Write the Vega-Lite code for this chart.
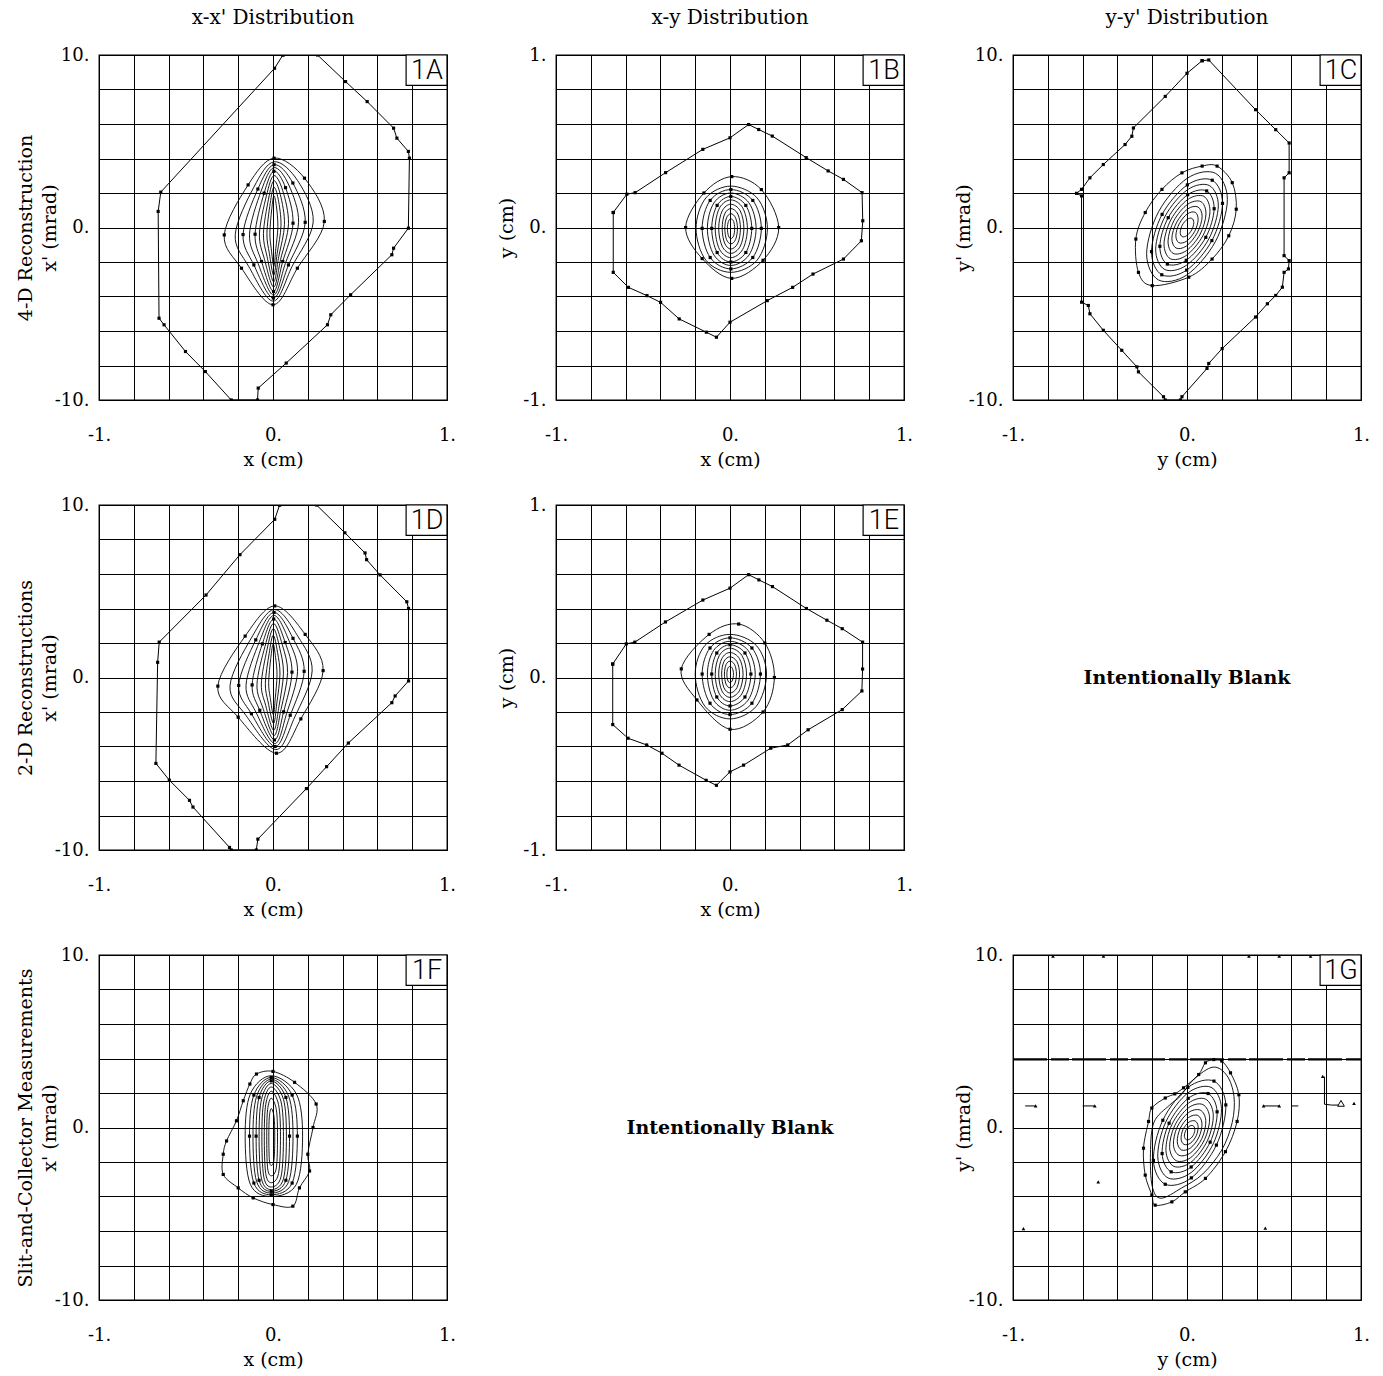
{
"$schema":"https://vega.github.io/schema/vega-lite/v6.json",
"background":"white",
"padding":{"left":15,"top":7,"right":5,"bottom":2},
"columns":3,
"spacing":{"row":25,"column":39},
"datasets":{
"A":[
{"k":0,"x":0.057,"y":10},{"k":0,"x":0.009,"y":9.23},{"k":0,"x":-0.645,"y":2.05},{"k":0,"x":-0.66,"y":0.93},{"k":0,"x":-0.655,"y":-5.26},{"k":0,"x":-0.626,"y":-5.64},{"k":0,"x":-0.503,"y":-7.19},{"k":0,"x":-0.389,"y":-8.35},{"k":0,"x":-0.24,"y":-10},{"k":0,"x":-0.089,"y":-10},{"k":0,"x":-0.085,"y":-9.31},{"k":0,"x":0.076,"y":-7.86},{"k":0,"x":0.313,"y":-5.64},{"k":0,"x":0.332,"y":-5.06},{"k":0,"x":0.446,"y":-3.9},{"k":0,"x":0.683,"y":-1.58},{"k":0,"x":0.693,"y":-1.2},{"k":0,"x":0.778,"y":-0.04},{"k":0,"x":0.784,"y":4.02},{"k":0,"x":0.778,"y":4.41},{"k":0,"x":0.712,"y":5.18},{"k":0,"x":0.693,"y":5.76},{"k":0,"x":0.541,"y":7.3},{"k":0,"x":0.417,"y":8.46},{"k":0,"x":0.256,"y":10},{"k":0,"x":0.057,"y":10},
{"k":1,"x":0.295,"y":0.35},{"k":1,"x":0.181,"y":2.86},{"k":1,"x":0.006,"y":4.02},{"k":1,"x":-0.143,"y":2.47},{"k":1,"x":-0.28,"y":-0.43},{"k":1,"x":-0.181,"y":-2.36},{"k":1,"x":0,"y":-4.48},{"k":1,"x":0.14,"y":-2.36},
{"k":2,"x":0.231,"y":0.32},{"k":2,"x":0.142,"y":2.71},{"k":2,"x":0.006,"y":3.81},{"k":2,"x":-0.11,"y":2.34},{"k":2,"x":-0.217,"y":-0.42},{"k":2,"x":-0.14,"y":-2.25},{"k":2,"x":0.001,"y":-4.27},{"k":2,"x":0.11,"y":-2.25},
{"k":3,"x":0.185,"y":0.3},{"k":3,"x":0.114,"y":2.58},{"k":3,"x":0.006,"y":3.64},{"k":3,"x":-0.087,"y":2.23},{"k":3,"x":-0.172,"y":-0.41},{"k":3,"x":-0.11,"y":-2.17},{"k":3,"x":0.002,"y":-4.09},{"k":3,"x":0.089,"y":-2.17},
{"k":4,"x":0.147,"y":0.28},{"k":4,"x":0.091,"y":2.46},{"k":4,"x":0.005,"y":3.47},{"k":4,"x":-0.068,"y":2.12},{"k":4,"x":-0.135,"y":-0.4},{"k":4,"x":-0.086,"y":-2.08},{"k":4,"x":0.003,"y":-3.92},{"k":4,"x":0.071,"y":-2.08},
{"k":5,"x":0.115,"y":0.25},{"k":5,"x":0.072,"y":2.31},{"k":5,"x":0.005,"y":3.26},{"k":5,"x":-0.051,"y":1.99},{"k":5,"x":-0.103,"y":-0.39},{"k":5,"x":-0.066,"y":-1.97},{"k":5,"x":0.003,"y":-3.71},{"k":5,"x":0.056,"y":-1.97},
{"k":6,"x":0.089,"y":0.22},{"k":6,"x":0.056,"y":2.13},{"k":6,"x":0.005,"y":3.01},{"k":6,"x":-0.038,"y":1.83},{"k":6,"x":-0.078,"y":-0.38},{"k":6,"x":-0.049,"y":-1.84},{"k":6,"x":0.004,"y":-3.45},{"k":6,"x":0.044,"y":-1.84},
{"k":7,"x":0.066,"y":0.18},{"k":7,"x":0.042,"y":1.91},{"k":7,"x":0.005,"y":2.71},{"k":7,"x":-0.026,"y":1.64},{"k":7,"x":-0.055,"y":-0.36},{"k":7,"x":-0.034,"y":-1.69},{"k":7,"x":0.004,"y":-3.15},{"k":7,"x":0.033,"y":-1.69},
{"k":8,"x":0.046,"y":0.13},{"k":8,"x":0.03,"y":1.64},{"k":8,"x":0.005,"y":2.33},{"k":8,"x":-0.016,"y":1.4},{"k":8,"x":-0.035,"y":-0.34},{"k":8,"x":-0.021,"y":-1.5},{"k":8,"x":0.004,"y":-2.77},{"k":8,"x":0.024,"y":-1.5},
{"k":9,"x":0.028,"y":0.06},{"k":9,"x":0.019,"y":1.27},{"k":9,"x":0.005,"y":1.83},{"k":9,"x":-0.007,"y":1.08},{"k":9,"x":-0.018,"y":-0.31},{"k":9,"x":-0.01,"y":-1.24},{"k":9,"x":0.005,"y":-2.25},{"k":9,"x":0.016,"y":-1.24}
],
"B":[
{"k":0,"x":-0.671,"y":0.087},{"k":0,"x":-0.593,"y":0.193},{"k":0,"x":-0.545,"y":0.202},{"k":0,"x":-0.37,"y":0.318},{"k":0,"x":-0.156,"y":0.453},{"k":0,"x":0,"y":0.52},{"k":0,"x":0.107,"y":0.597},{"k":0,"x":0.165,"y":0.568},{"k":0,"x":0.243,"y":0.53},{"k":0,"x":0.438,"y":0.405},{"k":0,"x":0.564,"y":0.328},{"k":0,"x":0.652,"y":0.279},{"k":0,"x":0.759,"y":0.202},{"k":0,"x":0.763,"y":0.039},{"k":0,"x":0.755,"y":-0.077},{"k":0,"x":0.652,"y":-0.183},{"k":0,"x":0.477,"y":-0.27},{"k":0,"x":0.36,"y":-0.347},{"k":0,"x":0.214,"y":-0.424},{"k":0,"x":0,"y":-0.549},{"k":0,"x":-0.078,"y":-0.636},{"k":0,"x":-0.136,"y":-0.607},{"k":0,"x":-0.292,"y":-0.53},{"k":0,"x":-0.399,"y":-0.434},{"k":0,"x":-0.477,"y":-0.395},{"k":0,"x":-0.584,"y":-0.347},{"k":0,"x":-0.671,"y":-0.26},{"k":0,"x":-0.671,"y":0.087},
{"k":1,"x":0.28,"y":0},{"k":1,"x":0.18,"y":0.22},{"k":1,"x":0.01,"y":0.295},{"k":1,"x":-0.15,"y":0.2},{"k":1,"x":-0.255,"y":0},{"k":1,"x":-0.16,"y":-0.18},{"k":1,"x":0.01,"y":-0.295},{"k":1,"x":0.19,"y":-0.19},
{"k":2,"x":0.215,"y":-0.005},{"k":2,"x":0.156,"y":0.171},{"k":2,"x":0.005,"y":0.24},{"k":2,"x":-0.139,"y":0.171},{"k":2,"x":-0.195,"y":-0.005},{"k":2,"x":-0.139,"y":-0.189},{"k":2,"x":0.005,"y":-0.26},{"k":2,"x":0.156,"y":-0.189},
{"k":3,"x":0.18,"y":-0.005},{"k":3,"x":0.131,"y":0.157},{"k":3,"x":0.005,"y":0.22},{"k":3,"x":-0.114,"y":0.157},{"k":3,"x":-0.16,"y":-0.005},{"k":3,"x":-0.114,"y":-0.174},{"k":3,"x":0.005,"y":-0.24},{"k":3,"x":0.131,"y":-0.174},
{"k":4,"x":0.15,"y":-0.005},{"k":4,"x":0.109,"y":0.143},{"k":4,"x":0.005,"y":0.2},{"k":4,"x":-0.092,"y":0.143},{"k":4,"x":-0.13,"y":-0.005},{"k":4,"x":-0.092,"y":-0.16},{"k":4,"x":0.005,"y":-0.22},{"k":4,"x":0.109,"y":-0.16},
{"k":5,"x":0.125,"y":-0.005},{"k":5,"x":0.091,"y":0.128},{"k":5,"x":0.005,"y":0.18},{"k":5,"x":-0.074,"y":0.128},{"k":5,"x":-0.105,"y":-0.005},{"k":5,"x":-0.074,"y":-0.145},{"k":5,"x":0.005,"y":-0.2},{"k":5,"x":0.091,"y":-0.145},
{"k":6,"x":0.1,"y":-0.005},{"k":6,"x":0.073,"y":0.114},{"k":6,"x":0.005,"y":0.16},{"k":6,"x":-0.06,"y":0.114},{"k":6,"x":-0.085,"y":-0.005},{"k":6,"x":-0.06,"y":-0.127},{"k":6,"x":0.005,"y":-0.175},{"k":6,"x":0.073,"y":-0.127},
{"k":7,"x":0.08,"y":-0.005},{"k":7,"x":0.059,"y":0.096},{"k":7,"x":0.005,"y":0.135},{"k":7,"x":-0.045,"y":0.096},{"k":7,"x":-0.065,"y":-0.005},{"k":7,"x":-0.045,"y":-0.109},{"k":7,"x":0.005,"y":-0.15},{"k":7,"x":0.059,"y":-0.109},
{"k":8,"x":0.06,"y":-0.005},{"k":8,"x":0.045,"y":0.078},{"k":8,"x":0.005,"y":0.11},{"k":8,"x":-0.031,"y":0.078},{"k":8,"x":-0.045,"y":-0.005},{"k":8,"x":-0.031,"y":-0.091},{"k":8,"x":0.005,"y":-0.125},{"k":8,"x":0.045,"y":-0.091},
{"k":9,"x":0.043,"y":-0.005},{"k":9,"x":0.032,"y":0.056},{"k":9,"x":0.005,"y":0.08},{"k":9,"x":-0.02,"y":0.056},{"k":9,"x":-0.03,"y":-0.005},{"k":9,"x":-0.02,"y":-0.07},{"k":9,"x":0.005,"y":-0.095},{"k":9,"x":0.032,"y":-0.07},
{"k":10,"x":0.027,"y":-0.005},{"k":10,"x":0.021,"y":0.035},{"k":10,"x":0.005,"y":0.05},{"k":10,"x":-0.009,"y":0.035},{"k":10,"x":-0.015,"y":-0.005},{"k":10,"x":-0.009,"y":-0.048},{"k":10,"x":0.005,"y":-0.065},{"k":10,"x":0.021,"y":-0.048}
],
"C":[
{"k":0,"x":0.087,"y":9.67},{"k":0,"x":0.125,"y":9.71},{"k":0,"x":0.394,"y":6.83},{"k":0,"x":0.51,"y":5.67},{"k":0,"x":0.587,"y":4.9},{"k":0,"x":0.587,"y":3.17},{"k":0,"x":0.558,"y":2.88},{"k":0,"x":0.558,"y":-1.63},{"k":0,"x":0.587,"y":-1.92},{"k":0,"x":0.583,"y":-2.4},{"k":0,"x":0.558,"y":-2.6},{"k":0,"x":0.548,"y":-3.46},{"k":0,"x":0.51,"y":-3.94},{"k":0,"x":0.462,"y":-4.42},{"k":0,"x":0.394,"y":-5.19},{"k":0,"x":0.202,"y":-7.02},{"k":0,"x":0.125,"y":-7.88},{"k":0,"x":0.115,"y":-8.17},{"k":0,"x":-0.029,"y":-9.81},{"k":0,"x":-0.038,"y":-10},{"k":0,"x":-0.125,"y":-10},{"k":0,"x":-0.135,"y":-9.81},{"k":0,"x":-0.279,"y":-8.37},{"k":0,"x":-0.288,"y":-8.08},{"k":0,"x":-0.375,"y":-7.12},{"k":0,"x":-0.481,"y":-5.96},{"k":0,"x":-0.558,"y":-5.0},{"k":0,"x":-0.567,"y":-4.52},{"k":0,"x":-0.606,"y":-4.33},{"k":0,"x":-0.606,"y":1.83},{"k":0,"x":-0.635,"y":1.98},{"k":0,"x":-0.606,"y":2.21},{"k":0,"x":-0.558,"y":2.88},{"k":0,"x":-0.481,"y":3.65},{"k":0,"x":-0.356,"y":4.81},{"k":0,"x":-0.317,"y":5.29},{"k":0,"x":-0.308,"y":5.77},{"k":0,"x":-0.125,"y":7.6},{"k":0,"x":0,"y":8.94},{"k":0,"x":0.087,"y":9.67},
{"k":1,"x":0.173,"y":3.56},{"k":1,"x":0.26,"y":2.6},{"k":1,"x":0.283,"y":1.06},{"k":1,"x":0.24,"y":-0.48},{"k":1,"x":0.144,"y":-1.83},{"k":1,"x":0.01,"y":-2.88},{"k":1,"x":-0.2,"y":-3.37},{"k":1,"x":-0.279,"y":-2.6},{"k":1,"x":-0.294,"y":-0.67},{"k":1,"x":-0.24,"y":0.87},{"k":1,"x":-0.144,"y":2.21},{"k":1,"x":-0.029,"y":3.17},{"k":1,"x":0.087,"y":3.56},
{"k":2,"x":0.164,"y":3.14},{"k":2,"x":0.001,"y":2.85},{"k":2,"x":-0.163,"y":0.92},{"k":2,"x":-0.232,"y":-1.52},{"k":2,"x":-0.164,"y":-3.04},{"k":2,"x":-0.001,"y":-2.75},{"k":2,"x":0.163,"y":-0.82},{"k":2,"x":0.232,"y":1.62},
{"k":3,"x":0.145,"y":2.74},{"k":3,"x":0.002,"y":2.47},{"k":3,"x":-0.143,"y":0.76},{"k":3,"x":-0.204,"y":-1.4},{"k":3,"x":-0.145,"y":-2.74},{"k":3,"x":-0.002,"y":-2.47},{"k":3,"x":0.143,"y":-0.76},{"k":3,"x":0.204,"y":1.4},
{"k":4,"x":0.129,"y":2.43},{"k":4,"x":0.003,"y":2.19},{"k":4,"x":-0.125,"y":0.67},{"k":4,"x":-0.18,"y":-1.25},{"k":4,"x":-0.129,"y":-2.43},{"k":4,"x":-0.003,"y":-2.19},{"k":4,"x":0.125,"y":-0.67},{"k":4,"x":0.18,"y":1.25},
{"k":5,"x":0.113,"y":2.12},{"k":5,"x":0.004,"y":1.9},{"k":5,"x":-0.108,"y":0.57},{"k":5,"x":-0.156,"y":-1.09},{"k":5,"x":-0.113,"y":-2.12},{"k":5,"x":-0.004,"y":-1.9},{"k":5,"x":0.108,"y":-0.57},{"k":5,"x":0.156,"y":1.09},
{"k":6,"x":0.096,"y":1.81},{"k":6,"x":0.004,"y":1.62},{"k":6,"x":-0.091,"y":0.48},{"k":6,"x":-0.132,"y":-0.94},{"k":6,"x":-0.096,"y":-1.81},{"k":6,"x":-0.004,"y":-1.62},{"k":6,"x":0.091,"y":-0.48},{"k":6,"x":0.132,"y":0.94},
{"k":7,"x":0.08,"y":1.5},{"k":7,"x":0.003,"y":1.34},{"k":7,"x":-0.075,"y":0.4},{"k":7,"x":-0.109,"y":-0.78},{"k":7,"x":-0.08,"y":-1.5},{"k":7,"x":-0.003,"y":-1.34},{"k":7,"x":0.075,"y":-0.4},{"k":7,"x":0.109,"y":0.78},
{"k":8,"x":0.063,"y":1.19},{"k":8,"x":0.003,"y":1.07},{"k":8,"x":-0.059,"y":0.31},{"k":8,"x":-0.087,"y":-0.62},{"k":8,"x":-0.063,"y":-1.19},{"k":8,"x":-0.003,"y":-1.07},{"k":8,"x":0.059,"y":-0.31},{"k":8,"x":0.087,"y":0.62},
{"k":9,"x":0.047,"y":0.88},{"k":9,"x":0.002,"y":0.79},{"k":9,"x":-0.044,"y":0.23},{"k":9,"x":-0.064,"y":-0.46},{"k":9,"x":-0.047,"y":-0.88},{"k":9,"x":-0.002,"y":-0.79},{"k":9,"x":0.044,"y":-0.23},{"k":9,"x":0.064,"y":0.46},
{"k":10,"x":0.028,"y":0.53},{"k":10,"x":0.001,"y":0.47},{"k":10,"x":-0.027,"y":0.14},{"k":10,"x":-0.039,"y":-0.28},{"k":10,"x":-0.028,"y":-0.53},{"k":10,"x":-0.001,"y":-0.47},{"k":10,"x":0.027,"y":-0.14},{"k":10,"x":0.039,"y":0.28}
],
"D":[
{"k":0,"x":0.038,"y":10},{"k":0,"x":0.01,"y":9.17},{"k":0,"x":-0.19,"y":7.12},{"k":0,"x":-0.385,"y":4.78},{"k":0,"x":-0.654,"y":2.05},{"k":0,"x":-0.663,"y":0.88},{"k":0,"x":-0.673,"y":-4.98},{"k":0,"x":-0.596,"y":-5.95},{"k":0,"x":-0.48,"y":-7.12},{"k":0,"x":-0.46,"y":-7.51},{"k":0,"x":-0.25,"y":-9.85},{"k":0,"x":-0.24,"y":-10},{"k":0,"x":-0.096,"y":-10},{"k":0,"x":-0.087,"y":-9.37},{"k":0,"x":0.192,"y":-6.44},{"k":0,"x":0.308,"y":-5.17},{"k":0,"x":0.433,"y":-3.8},{"k":0,"x":0.683,"y":-1.46},{"k":0,"x":0.702,"y":-1.07},{"k":0,"x":0.779,"y":-0.2},{"k":0,"x":0.779,"y":4.0},{"k":0,"x":0.769,"y":4.39},{"k":0,"x":0.615,"y":5.95},{"k":0,"x":0.538,"y":6.83},{"k":0,"x":0.529,"y":7.22},{"k":0,"x":0.413,"y":8.39},{"k":0,"x":0.25,"y":10},{"k":0,"x":0.038,"y":10},
{"k":1,"x":0.288,"y":0.4},{"k":1,"x":0.185,"y":2.5},{"k":1,"x":0.01,"y":4.15},{"k":1,"x":-0.16,"y":2.4},{"k":1,"x":-0.317,"y":-0.5},{"k":1,"x":-0.2,"y":-2.3},{"k":1,"x":0.02,"y":-4.39},{"k":1,"x":0.16,"y":-2.4},
{"k":2,"x":0.225,"y":0.38},{"k":2,"x":0.144,"y":2.37},{"k":2,"x":0.008,"y":3.94},{"k":2,"x":-0.125,"y":2.28},{"k":2,"x":-0.247,"y":-0.48},{"k":2,"x":-0.156,"y":-2.19},{"k":2,"x":0.016,"y":-4.18},{"k":2,"x":0.125,"y":-2.29},
{"k":3,"x":0.179,"y":0.36},{"k":3,"x":0.115,"y":2.27},{"k":3,"x":0.006,"y":3.77},{"k":3,"x":-0.099,"y":2.18},{"k":3,"x":-0.197,"y":-0.46},{"k":3,"x":-0.124,"y":-2.1},{"k":3,"x":0.012,"y":-4.0},{"k":3,"x":0.099,"y":-2.19},
{"k":4,"x":0.141,"y":0.34},{"k":4,"x":0.091,"y":2.16},{"k":4,"x":0.005,"y":3.6},{"k":4,"x":-0.078,"y":2.08},{"k":4,"x":-0.155,"y":-0.45},{"k":4,"x":-0.098,"y":-2.01},{"k":4,"x":0.01,"y":-3.83},{"k":4,"x":0.078,"y":-2.1},
{"k":5,"x":0.109,"y":0.31},{"k":5,"x":0.07,"y":2.03},{"k":5,"x":0.004,"y":3.39},{"k":5,"x":-0.061,"y":1.95},{"k":5,"x":-0.12,"y":-0.43},{"k":5,"x":-0.076,"y":-1.9},{"k":5,"x":0.008,"y":-3.62},{"k":5,"x":0.061,"y":-1.99},
{"k":6,"x":0.084,"y":0.28},{"k":6,"x":0.054,"y":1.88},{"k":6,"x":0.003,"y":3.13},{"k":6,"x":-0.046,"y":1.8},{"k":6,"x":-0.092,"y":-0.4},{"k":6,"x":-0.058,"y":-1.77},{"k":6,"x":0.006,"y":-3.36},{"k":6,"x":0.046,"y":-1.85},
{"k":7,"x":0.06,"y":0.25},{"k":7,"x":0.039,"y":1.69},{"k":7,"x":0.002,"y":2.83},{"k":7,"x":-0.034,"y":1.63},{"k":7,"x":-0.067,"y":-0.38},{"k":7,"x":-0.042,"y":-1.62},{"k":7,"x":0.004,"y":-3.06},{"k":7,"x":0.034,"y":-1.69},
{"k":8,"x":0.04,"y":0.2},{"k":8,"x":0.026,"y":1.46},{"k":8,"x":0.001,"y":2.45},{"k":8,"x":-0.022,"y":1.4},{"k":8,"x":-0.044,"y":-0.34},{"k":8,"x":-0.028,"y":-1.42},{"k":8,"x":0.003,"y":-2.67},{"k":8,"x":0.022,"y":-1.48},
{"k":9,"x":0.023,"y":0.14},{"k":9,"x":0.015,"y":1.15},{"k":9,"x":0.001,"y":1.94},{"k":9,"x":-0.013,"y":1.1},{"k":9,"x":-0.025,"y":-0.29},{"k":9,"x":-0.016,"y":-1.16},{"k":9,"x":0.002,"y":-2.16},{"k":9,"x":0.013,"y":-1.2}
],
"E":[
{"k":0,"x":-0.674,"y":0.078},{"k":0,"x":-0.596,"y":0.195},{"k":0,"x":-0.547,"y":0.205},{"k":0,"x":-0.371,"y":0.322},{"k":0,"x":-0.156,"y":0.449},{"k":0,"x":0,"y":0.518},{"k":0,"x":0.107,"y":0.596},{"k":0,"x":0.166,"y":0.566},{"k":0,"x":0.244,"y":0.527},{"k":0,"x":0.439,"y":0.4},{"k":0,"x":0.557,"y":0.332},{"k":0,"x":0.645,"y":0.283},{"k":0,"x":0.762,"y":0.205},{"k":0,"x":0.762,"y":0.049},{"k":0,"x":0.758,"y":-0.078},{"k":0,"x":0.645,"y":-0.186},{"k":0,"x":0.449,"y":-0.303},{"k":0,"x":0.332,"y":-0.391},{"k":0,"x":0.234,"y":-0.41},{"k":0,"x":0.078,"y":-0.508},{"k":0,"x":0,"y":-0.547},{"k":0,"x":-0.078,"y":-0.625},{"k":0,"x":-0.137,"y":-0.596},{"k":0,"x":-0.293,"y":-0.508},{"k":0,"x":-0.391,"y":-0.439},{"k":0,"x":-0.479,"y":-0.391},{"k":0,"x":-0.586,"y":-0.352},{"k":0,"x":-0.674,"y":-0.273},{"k":0,"x":-0.674,"y":0.078},
{"k":1,"x":0.255,"y":0},{"k":1,"x":0.2,"y":0.2},{"k":1,"x":0.05,"y":0.31},{"k":1,"x":-0.12,"y":0.25},{"k":1,"x":-0.28,"y":0.05},{"k":1,"x":-0.19,"y":-0.13},{"k":1,"x":0,"y":-0.3},{"k":1,"x":0.19,"y":-0.2},
{"k":2,"x":0.21,"y":0.02},{"k":2,"x":0.151,"y":0.186},{"k":2,"x":0,"y":0.25},{"k":2,"x":-0.144,"y":0.186},{"k":2,"x":-0.2,"y":0.02},{"k":2,"x":-0.144,"y":-0.167},{"k":2,"x":0,"y":-0.24},{"k":2,"x":0.151,"y":-0.167},
{"k":3,"x":0.175,"y":0.02},{"k":3,"x":0.126,"y":0.171},{"k":3,"x":0,"y":0.23},{"k":3,"x":-0.115,"y":0.171},{"k":3,"x":-0.16,"y":0.02},{"k":3,"x":-0.115,"y":-0.149},{"k":3,"x":0,"y":-0.215},{"k":3,"x":0.126,"y":-0.149},
{"k":4,"x":0.145,"y":0.02},{"k":4,"x":0.104,"y":0.157},{"k":4,"x":0,"y":0.21},{"k":4,"x":-0.094,"y":0.157},{"k":4,"x":-0.13,"y":0.02},{"k":4,"x":-0.094,"y":-0.131},{"k":4,"x":0,"y":-0.19},{"k":4,"x":0.104,"y":-0.131},
{"k":5,"x":0.12,"y":0.02},{"k":5,"x":0.086,"y":0.142},{"k":5,"x":0,"y":0.19},{"k":5,"x":-0.076,"y":0.142},{"k":5,"x":-0.105,"y":0.02},{"k":5,"x":-0.076,"y":-0.113},{"k":5,"x":0,"y":-0.165},{"k":5,"x":0.086,"y":-0.113},
{"k":6,"x":0.095,"y":0.02},{"k":6,"x":0.068,"y":0.128},{"k":6,"x":0,"y":0.17},{"k":6,"x":-0.061,"y":0.128},{"k":6,"x":-0.085,"y":0.02},{"k":6,"x":-0.061,"y":-0.095},{"k":6,"x":0,"y":-0.14},{"k":6,"x":0.068,"y":-0.095},
{"k":7,"x":0.075,"y":0.02},{"k":7,"x":0.054,"y":0.11},{"k":7,"x":0,"y":0.145},{"k":7,"x":-0.047,"y":0.11},{"k":7,"x":-0.065,"y":0.02},{"k":7,"x":-0.047,"y":-0.077},{"k":7,"x":0,"y":-0.115},{"k":7,"x":0.054,"y":-0.077},
{"k":8,"x":0.055,"y":0.02},{"k":8,"x":0.04,"y":0.092},{"k":8,"x":0,"y":0.12},{"k":8,"x":-0.035,"y":0.092},{"k":8,"x":-0.048,"y":0.02},{"k":8,"x":-0.035,"y":-0.059},{"k":8,"x":0,"y":-0.09},{"k":8,"x":0.04,"y":-0.059},
{"k":9,"x":0.037,"y":0.02},{"k":9,"x":0.027,"y":0.074},{"k":9,"x":0,"y":0.095},{"k":9,"x":-0.023,"y":0.074},{"k":9,"x":-0.032,"y":0.02},{"k":9,"x":-0.023,"y":-0.038},{"k":9,"x":0,"y":-0.06},{"k":9,"x":0.027,"y":-0.038},
{"k":10,"x":0.02,"y":0.02},{"k":10,"x":0.014,"y":0.052},{"k":10,"x":0,"y":0.065},{"k":10,"x":-0.013,"y":0.052},{"k":10,"x":-0.018,"y":0.02},{"k":10,"x":-0.013,"y":-0.016},{"k":10,"x":0,"y":-0.03},{"k":10,"x":0.014,"y":-0.016}
],
"F":[
{"k":1,"x":0,"y":3.25},{"k":1,"x":0.124,"y":2.62},{"k":1,"x":0.248,"y":1.36},{"k":1,"x":0.23,"y":0},{"k":1,"x":0.2,"y":-1.55},{"k":1,"x":0.21,"y":-2.52},{"k":1,"x":0.152,"y":-3.5},{"k":1,"x":0.114,"y":-4.56},{"k":1,"x":0,"y":-4.47},{"k":1,"x":-0.114,"y":-4.08},{"k":1,"x":-0.2,"y":-3.5},{"k":1,"x":-0.286,"y":-2.72},{"k":1,"x":-0.286,"y":-1.55},{"k":1,"x":-0.267,"y":-0.78},{"k":1,"x":-0.21,"y":0.39},{"k":1,"x":-0.171,"y":1.55},{"k":1,"x":-0.133,"y":2.52},{"k":1,"x":-0.095,"y":3.1},
{"k":2,"x":0.17,"y":-0.5},{"k":2,"x":0.134,"y":1.95},{"k":2,"x":-0.01,"y":3.0},{"k":2,"x":-0.13,"y":1.95},{"k":2,"x":-0.16,"y":-0.5},{"k":2,"x":-0.13,"y":-3.3},{"k":2,"x":-0.01,"y":-4.0},{"k":2,"x":0.134,"y":-3.3},
{"k":3,"x":0.14,"y":-0.5},{"k":3,"x":0.11,"y":1.88},{"k":3,"x":-0.01,"y":2.9},{"k":3,"x":-0.11,"y":1.88},{"k":3,"x":-0.135,"y":-0.5},{"k":3,"x":-0.11,"y":-3.22},{"k":3,"x":-0.01,"y":-3.9},{"k":3,"x":0.11,"y":-3.22},
{"k":4,"x":0.115,"y":-0.5},{"k":4,"x":0.09,"y":1.81},{"k":4,"x":-0.01,"y":2.8},{"k":4,"x":-0.094,"y":1.81},{"k":4,"x":-0.115,"y":-0.5},{"k":4,"x":-0.094,"y":-3.14},{"k":4,"x":-0.01,"y":-3.8},{"k":4,"x":0.09,"y":-3.14},
{"k":5,"x":0.095,"y":-0.5},{"k":5,"x":0.074,"y":1.74},{"k":5,"x":-0.01,"y":2.7},{"k":5,"x":-0.08,"y":1.74},{"k":5,"x":-0.097,"y":-0.5},{"k":5,"x":-0.08,"y":-3.06},{"k":5,"x":-0.01,"y":-3.7},{"k":5,"x":0.074,"y":-3.06},
{"k":6,"x":0.077,"y":-0.5},{"k":6,"x":0.06,"y":1.64},{"k":6,"x":-0.01,"y":2.55},{"k":6,"x":-0.066,"y":1.64},{"k":6,"x":-0.08,"y":-0.5},{"k":6,"x":-0.066,"y":-2.98},{"k":6,"x":-0.01,"y":-3.6},{"k":6,"x":0.06,"y":-2.98},
{"k":7,"x":0.06,"y":-0.5},{"k":7,"x":0.046,"y":1.5},{"k":7,"x":-0.01,"y":2.35},{"k":7,"x":-0.053,"y":1.5},{"k":7,"x":-0.064,"y":-0.5},{"k":7,"x":-0.053,"y":-2.86},{"k":7,"x":-0.01,"y":-3.45},{"k":7,"x":0.046,"y":-2.86},
{"k":8,"x":0.043,"y":-0.5},{"k":8,"x":0.032,"y":1.32},{"k":8,"x":-0.01,"y":2.1},{"k":8,"x":-0.042,"y":1.32},{"k":8,"x":-0.05,"y":-0.5},{"k":8,"x":-0.042,"y":-2.66},{"k":8,"x":-0.01,"y":-3.2},{"k":8,"x":0.032,"y":-2.66},
{"k":9,"x":0.026,"y":-0.5},{"k":9,"x":0.019,"y":1.04},{"k":9,"x":-0.01,"y":1.7},{"k":9,"x":-0.031,"y":1.04},{"k":9,"x":-0.036,"y":-0.5},{"k":9,"x":-0.031,"y":-2.34},{"k":9,"x":-0.01,"y":-2.8},{"k":9,"x":0.019,"y":-2.34},
{"k":10,"x":0.01,"y":-0.5},{"k":10,"x":0.006,"y":0.62},{"k":10,"x":-0.01,"y":1.1},{"k":10,"x":-0.021,"y":0.62},{"k":10,"x":-0.024,"y":-0.5},{"k":10,"x":-0.021,"y":-1.86},{"k":10,"x":-0.01,"y":-2.2},{"k":10,"x":0.006,"y":-1.86}
],
"G":[
{"k":1,"x":0.154,"y":3.94},{"k":1,"x":0.2,"y":3.85},{"k":1,"x":0.25,"y":3.17},{"k":1,"x":0.298,"y":1.9},{"k":1,"x":0.288,"y":0.35},{"k":1,"x":0.221,"y":-1.4},{"k":1,"x":0.106,"y":-2.95},{"k":1,"x":-0.01,"y":-3.73},{"k":1,"x":-0.087,"y":-4.31},{"k":1,"x":-0.183,"y":-4.5},{"k":1,"x":-0.202,"y":-3.92},{"k":1,"x":-0.24,"y":-2.76},{"k":1,"x":-0.25,"y":-1.2},{"k":1,"x":-0.221,"y":0.35},{"k":1,"x":-0.202,"y":1.13},{"k":1,"x":-0.125,"y":1.71},{"k":1,"x":-0.07,"y":1.95},{"k":1,"x":-0.02,"y":2.3},{"k":1,"x":0.067,"y":3.07},{"k":1,"x":0.106,"y":3.75},
{"k":2,"x":0.15,"y":3.5},{"k":2,"x":0.23,"y":3.0},{"k":2,"x":0.27,"y":1.8},{"k":2,"x":0.26,"y":0.3},{"k":2,"x":0.2,"y":-1.3},{"k":2,"x":0.09,"y":-2.7},{"k":2,"x":-0.03,"y":-3.5},{"k":2,"x":-0.15,"y":-4.1},{"k":2,"x":-0.2,"y":-3.4},{"k":2,"x":-0.21,"y":-1.5},{"k":2,"x":-0.19,"y":0.3},{"k":2,"x":-0.1,"y":1.3},{"k":2,"x":-0.04,"y":1.8},{"k":2,"x":0.04,"y":2.8},
{"k":3,"x":0.155,"y":2.69},{"k":3,"x":0.005,"y":2.32},{"k":3,"x":-0.139,"y":0.42},{"k":3,"x":-0.193,"y":-1.91},{"k":3,"x":-0.125,"y":-3.29},{"k":3,"x":0.025,"y":-2.92},{"k":3,"x":0.169,"y":-1.02},{"k":3,"x":0.223,"y":1.31},
{"k":4,"x":0.138,"y":2.33},{"k":4,"x":0.006,"y":2.01},{"k":4,"x":-0.121,"y":0.34},{"k":4,"x":-0.168,"y":-1.71},{"k":4,"x":-0.108,"y":-2.93},{"k":4,"x":0.024,"y":-2.61},{"k":4,"x":0.151,"y":-0.94},{"k":4,"x":0.198,"y":1.11},
{"k":5,"x":0.121,"y":1.97},{"k":5,"x":0.007,"y":1.69},{"k":5,"x":-0.103,"y":0.25},{"k":5,"x":-0.143,"y":-1.51},{"k":5,"x":-0.091,"y":-2.57},{"k":5,"x":0.024,"y":-2.29},{"k":5,"x":0.133,"y":-0.85},{"k":5,"x":0.173,"y":0.91},
{"k":6,"x":0.106,"y":1.65},{"k":6,"x":0.008,"y":1.41},{"k":6,"x":-0.087,"y":0.17},{"k":6,"x":-0.121,"y":-1.34},{"k":6,"x":-0.076,"y":-2.25},{"k":6,"x":0.023,"y":-2.01},{"k":6,"x":0.117,"y":-0.77},{"k":6,"x":0.151,"y":0.74},
{"k":7,"x":0.091,"y":1.33},{"k":7,"x":0.008,"y":1.14},{"k":7,"x":-0.071,"y":0.1},{"k":7,"x":-0.1,"y":-1.17},{"k":7,"x":-0.061,"y":-1.93},{"k":7,"x":0.022,"y":-1.74},{"k":7,"x":0.101,"y":-0.7},{"k":7,"x":0.13,"y":0.57},
{"k":8,"x":0.076,"y":1.01},{"k":8,"x":0.008,"y":0.86},{"k":8,"x":-0.056,"y":0.03},{"k":8,"x":-0.078,"y":-1.0},{"k":8,"x":-0.046,"y":-1.61},{"k":8,"x":0.022,"y":-1.46},{"k":8,"x":0.086,"y":-0.63},{"k":8,"x":0.108,"y":0.4},
{"k":9,"x":0.062,"y":0.7},{"k":9,"x":0.009,"y":0.58},{"k":9,"x":-0.039,"y":-0.05},{"k":9,"x":-0.056,"y":-0.83},{"k":9,"x":-0.032,"y":-1.3},{"k":9,"x":0.021,"y":-1.18},{"k":9,"x":0.069,"y":-0.55},{"k":9,"x":0.086,"y":0.23},
{"k":10,"x":0.047,"y":0.38},{"k":10,"x":0.011,"y":0.31},{"k":10,"x":-0.023,"y":-0.12},{"k":10,"x":-0.034,"y":-0.66},{"k":10,"x":-0.017,"y":-0.98},{"k":10,"x":0.02,"y":-0.91},{"k":10,"x":0.053,"y":-0.48},{"k":10,"x":0.064,"y":0.06},
{"k":11,"x":0.034,"y":0.11},{"k":11,"x":0.012,"y":0.06},{"k":11,"x":-0.008,"y":-0.19},{"k":11,"x":-0.015,"y":-0.51},{"k":11,"x":-0.004,"y":-0.71},{"k":11,"x":0.018,"y":-0.66},{"k":11,"x":0.038,"y":-0.41},{"k":11,"x":0.045,"y":-0.09}
],
"Gseg":[
{"s":1,"x":-0.93,"y":1.25},{"s":1,"x":-0.87,"y":1.25},{"s":2,"x":-0.6,"y":1.25},{"s":2,"x":-0.53,"y":1.25},{"s":3,"x":0.44,"y":1.25},{"s":3,"x":0.53,"y":1.25},{"s":4,"x":0.6,"y":1.25},{"s":4,"x":0.64,"y":1.25},{"s":5,"x":0.79,"y":2.95},{"s":5,"x":0.79,"y":1.35},{"s":5,"x":0.83,"y":1.3},{"s":5,"x":0.87,"y":1.3}
],
"Gheavy":[{"x":-1,"y":3.95},{"x":1,"y":3.95}],
"Gtri":[
{"x":-0.94,"y":-5.86},{"x":-0.51,"y":-3.15},{"x":0.45,"y":-5.83},{"x":0.78,"y":2.97},{"x":-0.77,"y":9.93},{"x":-0.48,"y":9.93},{"x":0.356,"y":9.93},{"x":0.53,"y":9.93},{"x":0.71,"y":9.93},{"x":-0.87,"y":1.25},{"x":-0.53,"y":1.25},{"x":0.44,"y":1.25},{"x":0.53,"y":1.25},{"x":0.96,"y":1.4}
],
"Gopen":[{"x":0.885,"y":1.4}],
"boxM":[{"x":0.765,"x2":1,"y":8.24,"y2":10}],
"boxC":[{"x":0.765,"x2":1,"y":0.824,"y2":1}]
},
"concat":[
{"width":348,"height":345,"title":{"text":"x-x' Distribution"},"data":{"name":"A"},
"encoding":{
"x":{"field":"x","type":"quantitative","scale":{"domain":[-1,1],"nice":false,"zero":false},"axis":{"values":[-1,-0.8,-0.6,-0.4,-0.2,0,0.2,0.4,0.6,0.8,1],"labelExpr":"abs(datum.value)<0.01?'0.':(datum.value>0.99?'1.':(datum.value<-0.99?'-1.':''))","title":"x (cm)"}},
"y":{"field":"y","type":"quantitative","scale":{"domain":[-10,10],"nice":false,"zero":false},"axis":{"values":[-10,-8,-6,-4,-2,0,2,4,6,8,10],"labelExpr":"datum.value==0?'0.':(datum.value==10?'10.':(datum.value==-10?'-10.':''))","title":["4-D Reconstruction","x' (mrad)"]}}},
"layer":[
{"transform":[{"filter":"datum.k==0"}],"mark":{"type":"line","clip":true,"color":"black","strokeWidth":1},"encoding":{"order":{"value":null}}},
{"transform":[{"filter":"datum.k>0"}],"mark":{"type":"line","interpolate":"cardinal-closed","clip":true,"color":"black","strokeWidth":0.9},"encoding":{"detail":{"field":"k","type":"nominal"},"order":{"value":null}}},
{"transform":[{"filter":"datum.k==0||datum.k==1||datum.k==3||datum.k==5"}],"mark":{"type":"square","filled":true,"color":"black","size":10,"opacity":1,"clip":true}},
{"data":{"name":"boxM"},"mark":{"type":"rect","fill":"white","stroke":"black","strokeWidth":1.2},"encoding":{"x2":{"field":"x2"},"y2":{"field":"y2"}}},
{"data":{"values":[{"lab":"1A","x":0.885,"y":9.1}]},"mark":{"type":"text","font":"Roboto","fontSize":27,"fontWeight":300,"color":"black"},"encoding":{"text":{"field":"lab"}}}
]},
{"width":348,"height":345,"title":{"text":"x-y Distribution"},"data":{"name":"B"},
"encoding":{
"x":{"field":"x","type":"quantitative","scale":{"domain":[-1,1],"nice":false,"zero":false},"axis":{"values":[-1,-0.8,-0.6,-0.4,-0.2,0,0.2,0.4,0.6,0.8,1],"labelExpr":"abs(datum.value)<0.01?'0.':(datum.value>0.99?'1.':(datum.value<-0.99?'-1.':''))","title":"x (cm)"}},
"y":{"field":"y","type":"quantitative","scale":{"domain":[-1,1],"nice":false,"zero":false},"axis":{"values":[-1,-0.8,-0.6,-0.4,-0.2,0,0.2,0.4,0.6,0.8,1],"labelExpr":"abs(datum.value)<0.01?'0.':(datum.value>0.99?'1.':(datum.value<-0.99?'-1.':''))","title":"y (cm)"}}},
"layer":[
{"transform":[{"filter":"datum.k==0"}],"mark":{"type":"line","clip":true,"color":"black","strokeWidth":1},"encoding":{"order":{"value":null}}},
{"transform":[{"filter":"datum.k>0"}],"mark":{"type":"line","interpolate":"cardinal-closed","clip":true,"color":"black","strokeWidth":0.9},"encoding":{"detail":{"field":"k","type":"nominal"},"order":{"value":null}}},
{"transform":[{"filter":"datum.k==0||datum.k==1||datum.k==3||datum.k==5"}],"mark":{"type":"square","filled":true,"color":"black","size":10,"opacity":1,"clip":true}},
{"data":{"name":"boxC"},"mark":{"type":"rect","fill":"white","stroke":"black","strokeWidth":1.2},"encoding":{"x2":{"field":"x2"},"y2":{"field":"y2"}}},
{"data":{"values":[{"lab":"1B","x":0.885,"y":0.91}]},"mark":{"type":"text","font":"Roboto","fontSize":27,"fontWeight":300,"color":"black"},"encoding":{"text":{"field":"lab"}}}
]},
{"width":348,"height":345,"title":{"text":"y-y' Distribution"},"data":{"name":"C"},
"encoding":{
"x":{"field":"x","type":"quantitative","scale":{"domain":[-1,1],"nice":false,"zero":false},"axis":{"values":[-1,-0.8,-0.6,-0.4,-0.2,0,0.2,0.4,0.6,0.8,1],"labelExpr":"abs(datum.value)<0.01?'0.':(datum.value>0.99?'1.':(datum.value<-0.99?'-1.':''))","title":"y (cm)"}},
"y":{"field":"y","type":"quantitative","scale":{"domain":[-10,10],"nice":false,"zero":false},"axis":{"values":[-10,-8,-6,-4,-2,0,2,4,6,8,10],"labelExpr":"datum.value==0?'0.':(datum.value==10?'10.':(datum.value==-10?'-10.':''))","title":"y' (mrad)"}}},
"layer":[
{"transform":[{"filter":"datum.k==0"}],"mark":{"type":"line","clip":true,"color":"black","strokeWidth":1},"encoding":{"order":{"value":null}}},
{"transform":[{"filter":"datum.k>0"}],"mark":{"type":"line","interpolate":"cardinal-closed","clip":true,"color":"black","strokeWidth":0.9},"encoding":{"detail":{"field":"k","type":"nominal"},"order":{"value":null}}},
{"transform":[{"filter":"datum.k==0||datum.k==1||datum.k==3||datum.k==5"}],"mark":{"type":"square","filled":true,"color":"black","size":10,"opacity":1,"clip":true}},
{"data":{"name":"boxM"},"mark":{"type":"rect","fill":"white","stroke":"black","strokeWidth":1.2},"encoding":{"x2":{"field":"x2"},"y2":{"field":"y2"}}},
{"data":{"values":[{"lab":"1C","x":0.885,"y":9.1}]},"mark":{"type":"text","font":"Roboto","fontSize":27,"fontWeight":300,"color":"black"},"encoding":{"text":{"field":"lab"}}}
]},
{"width":348,"height":345,"data":{"name":"D"},
"encoding":{
"x":{"field":"x","type":"quantitative","scale":{"domain":[-1,1],"nice":false,"zero":false},"axis":{"values":[-1,-0.8,-0.6,-0.4,-0.2,0,0.2,0.4,0.6,0.8,1],"labelExpr":"abs(datum.value)<0.01?'0.':(datum.value>0.99?'1.':(datum.value<-0.99?'-1.':''))","title":"x (cm)"}},
"y":{"field":"y","type":"quantitative","scale":{"domain":[-10,10],"nice":false,"zero":false},"axis":{"values":[-10,-8,-6,-4,-2,0,2,4,6,8,10],"labelExpr":"datum.value==0?'0.':(datum.value==10?'10.':(datum.value==-10?'-10.':''))","title":["2-D Reconstructions","x' (mrad)"]}}},
"layer":[
{"transform":[{"filter":"datum.k==0"}],"mark":{"type":"line","clip":true,"color":"black","strokeWidth":1},"encoding":{"order":{"value":null}}},
{"transform":[{"filter":"datum.k>0"}],"mark":{"type":"line","interpolate":"cardinal-closed","clip":true,"color":"black","strokeWidth":0.9},"encoding":{"detail":{"field":"k","type":"nominal"},"order":{"value":null}}},
{"transform":[{"filter":"datum.k==0||datum.k==1||datum.k==3||datum.k==5"}],"mark":{"type":"square","filled":true,"color":"black","size":10,"opacity":1,"clip":true}},
{"data":{"name":"boxM"},"mark":{"type":"rect","fill":"white","stroke":"black","strokeWidth":1.2},"encoding":{"x2":{"field":"x2"},"y2":{"field":"y2"}}},
{"data":{"values":[{"lab":"1D","x":0.885,"y":9.1}]},"mark":{"type":"text","font":"Roboto","fontSize":27,"fontWeight":300,"color":"black"},"encoding":{"text":{"field":"lab"}}}
]},
{"width":348,"height":345,"data":{"name":"E"},
"encoding":{
"x":{"field":"x","type":"quantitative","scale":{"domain":[-1,1],"nice":false,"zero":false},"axis":{"values":[-1,-0.8,-0.6,-0.4,-0.2,0,0.2,0.4,0.6,0.8,1],"labelExpr":"abs(datum.value)<0.01?'0.':(datum.value>0.99?'1.':(datum.value<-0.99?'-1.':''))","title":"x (cm)"}},
"y":{"field":"y","type":"quantitative","scale":{"domain":[-1,1],"nice":false,"zero":false},"axis":{"values":[-1,-0.8,-0.6,-0.4,-0.2,0,0.2,0.4,0.6,0.8,1],"labelExpr":"abs(datum.value)<0.01?'0.':(datum.value>0.99?'1.':(datum.value<-0.99?'-1.':''))","title":"y (cm)"}}},
"layer":[
{"transform":[{"filter":"datum.k==0"}],"mark":{"type":"line","clip":true,"color":"black","strokeWidth":1},"encoding":{"order":{"value":null}}},
{"transform":[{"filter":"datum.k>0"}],"mark":{"type":"line","interpolate":"cardinal-closed","clip":true,"color":"black","strokeWidth":0.9},"encoding":{"detail":{"field":"k","type":"nominal"},"order":{"value":null}}},
{"transform":[{"filter":"datum.k==0||datum.k==1||datum.k==3||datum.k==5"}],"mark":{"type":"square","filled":true,"color":"black","size":10,"opacity":1,"clip":true}},
{"data":{"name":"boxC"},"mark":{"type":"rect","fill":"white","stroke":"black","strokeWidth":1.2},"encoding":{"x2":{"field":"x2"},"y2":{"field":"y2"}}},
{"data":{"values":[{"lab":"1E","x":0.885,"y":0.91}]},"mark":{"type":"text","font":"Roboto","fontSize":27,"fontWeight":300,"color":"black"},"encoding":{"text":{"field":"lab"}}}
]},
{"width":348,"height":345,"data":{"values":[{"t":"Intentionally Blank"}]},
"mark":{"type":"text","font":"DejaVu Serif","fontSize":19,"fontWeight":"bold","color":"black"},
"encoding":{"text":{"field":"t"},
"x":{"datum":0,"type":"quantitative","scale":{"domain":[-1,1],"nice":false,"zero":false},"axis":{"values":[-1,0,1],"labelExpr":"abs(datum.value)<0.01?'0.':(datum.value>0.99?'1.':(datum.value<-0.99?'-1.':''))","title":"y (cm)","grid":false,"labelOpacity":0,"titleOpacity":0}},
"y":{"datum":0,"type":"quantitative","scale":{"domain":[-10,10],"nice":false,"zero":false},"axis":{"values":[-10,0,10],"labelExpr":"datum.value==0?'0.':(datum.value==10?'10.':(datum.value==-10?'-10.':''))","title":"y' (mrad)","grid":false,"labelOpacity":0,"titleOpacity":0}}},
"view":{"stroke":null}},
{"width":348,"height":345,"data":{"name":"F"},
"encoding":{
"x":{"field":"x","type":"quantitative","scale":{"domain":[-1,1],"nice":false,"zero":false},"axis":{"values":[-1,-0.8,-0.6,-0.4,-0.2,0,0.2,0.4,0.6,0.8,1],"labelExpr":"abs(datum.value)<0.01?'0.':(datum.value>0.99?'1.':(datum.value<-0.99?'-1.':''))","title":"x (cm)"}},
"y":{"field":"y","type":"quantitative","scale":{"domain":[-10,10],"nice":false,"zero":false},"axis":{"values":[-10,-8,-6,-4,-2,0,2,4,6,8,10],"labelExpr":"datum.value==0?'0.':(datum.value==10?'10.':(datum.value==-10?'-10.':''))","title":["Slit-and-Collector Measurements","x' (mrad)"]}}},
"layer":[
{"transform":[{"filter":"datum.k>0"}],"mark":{"type":"line","interpolate":"cardinal-closed","clip":true,"color":"black","strokeWidth":0.9},"encoding":{"detail":{"field":"k","type":"nominal"},"order":{"value":null}}},
{"transform":[{"filter":"datum.k==1||datum.k==3||datum.k==5"}],"mark":{"type":"square","filled":true,"color":"black","size":10,"opacity":1,"clip":true}},
{"data":{"name":"boxM"},"mark":{"type":"rect","fill":"white","stroke":"black","strokeWidth":1.2},"encoding":{"x2":{"field":"x2"},"y2":{"field":"y2"}}},
{"data":{"values":[{"lab":"1F","x":0.885,"y":9.1}]},"mark":{"type":"text","font":"Roboto","fontSize":27,"fontWeight":300,"color":"black"},"encoding":{"text":{"field":"lab"}}}
]},
{"width":348,"height":345,"data":{"values":[{"t":"Intentionally Blank"}]},
"mark":{"type":"text","font":"DejaVu Serif","fontSize":19,"fontWeight":"bold","color":"black"},
"encoding":{"text":{"field":"t"},
"x":{"datum":0,"type":"quantitative","scale":{"domain":[-1,1],"nice":false,"zero":false},"axis":{"values":[-1,0,1],"labelExpr":"abs(datum.value)<0.01?'0.':(datum.value>0.99?'1.':(datum.value<-0.99?'-1.':''))","title":"x (cm)","grid":false,"labelOpacity":0,"titleOpacity":0}},
"y":{"datum":0,"type":"quantitative","scale":{"domain":[-1,1],"nice":false,"zero":false},"axis":{"values":[-1,0,1],"labelExpr":"abs(datum.value)<0.01?'0.':(datum.value>0.99?'1.':(datum.value<-0.99?'-1.':''))","title":"y (cm)","grid":false,"labelOpacity":0,"titleOpacity":0}}},
"view":{"stroke":null}},
{"width":348,"height":345,"data":{"name":"G"},
"encoding":{
"x":{"field":"x","type":"quantitative","scale":{"domain":[-1,1],"nice":false,"zero":false},"axis":{"values":[-1,-0.8,-0.6,-0.4,-0.2,0,0.2,0.4,0.6,0.8,1],"labelExpr":"abs(datum.value)<0.01?'0.':(datum.value>0.99?'1.':(datum.value<-0.99?'-1.':''))","title":"y (cm)"}},
"y":{"field":"y","type":"quantitative","scale":{"domain":[-10,10],"nice":false,"zero":false},"axis":{"values":[-10,-8,-6,-4,-2,0,2,4,6,8,10],"labelExpr":"datum.value==0?'0.':(datum.value==10?'10.':(datum.value==-10?'-10.':''))","title":"y' (mrad)"}}},
"layer":[
{"data":{"name":"Gheavy"},"mark":{"type":"line","clip":true,"color":"black","strokeWidth":2.4,"strokeDash":[34,4,18,3]},"encoding":{"order":{"value":null}}},
{"data":{"name":"Gseg"},"mark":{"type":"line","clip":true,"color":"black","strokeWidth":1},"encoding":{"detail":{"field":"s","type":"nominal"},"order":{"value":null}}},
{"data":{"name":"Gtri"},"mark":{"type":"point","shape":"triangle-up","filled":true,"color":"black","size":14,"opacity":1,"clip":true}},
{"data":{"name":"Gopen"},"mark":{"type":"point","shape":"triangle-up","filled":false,"color":"black","size":45,"opacity":1,"strokeWidth":1,"clip":true}},
{"transform":[{"filter":"datum.k>0"}],"mark":{"type":"line","interpolate":"cardinal-closed","clip":true,"color":"black","strokeWidth":0.9},"encoding":{"detail":{"field":"k","type":"nominal"},"order":{"value":null}}},
{"transform":[{"filter":"datum.k==1||datum.k==3||datum.k==5"}],"mark":{"type":"square","filled":true,"color":"black","size":10,"opacity":1,"clip":true}},
{"data":{"name":"boxM"},"mark":{"type":"rect","fill":"white","stroke":"black","strokeWidth":1.2},"encoding":{"x2":{"field":"x2"},"y2":{"field":"y2"}}},
{"data":{"values":[{"lab":"1G","x":0.885,"y":9.1}]},"mark":{"type":"text","font":"Roboto","fontSize":27,"fontWeight":300,"color":"black"},"encoding":{"text":{"field":"lab"}}}
]}
],
"config":{
"view":{"stroke":"black","strokeWidth":1.3,"fill":"white"},
"axis":{"labelFont":"DejaVu Serif","labelFontSize":18,"labelColor":"black","titleFont":"DejaVu Serif","titleFontSize":19,"titleFontWeight":"normal","titleColor":"black","grid":true,"gridColor":"black","gridOpacity":1,"gridWidth":1,"ticks":false,"tickSize":0,"domain":false,"labelOverlap":false,"labelFlush":false,"labelBound":false},
"axisX":{"labelPadding":26,"titlePadding":6},
"axisY":{"labelPadding":10,"titlePadding":4,"minExtent":36,"maxExtent":36,"titleLineHeight":24},
"title":{"font":"DejaVu Serif","fontSize":20,"fontWeight":"normal","color":"black","offset":18,"frame":"group","anchor":"middle"}
}
}
